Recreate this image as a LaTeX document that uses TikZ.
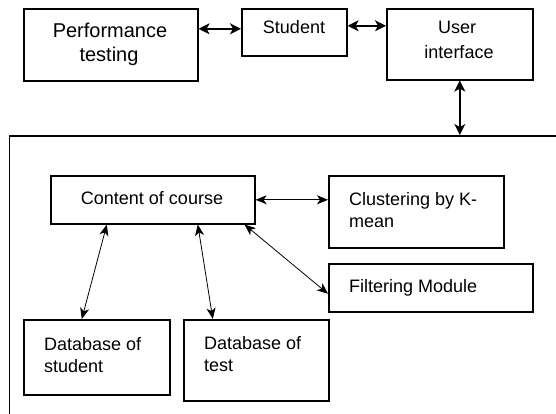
\documentclass[tikz,border=0pt]{standalone}
\usepackage{fontspec}
\setmainfont{Liberation Sans}
\usetikzlibrary{arrows.meta,calc}
\begin{document}
\begin{tikzpicture}[x=1pt,y=-1pt,
  box/.style={draw, line width=1.6pt, inner sep=0pt, anchor=north west},
  txt/.style={inner sep=0pt, font=\fontsize{18}{22}\selectfont},
  bigtxt/.style={inner sep=0pt, font=\fontsize{20}{24}\selectfont},
  arr/.style={{Stealth[length=11pt,width=11pt,inset=3pt]}-{Stealth[length=11pt,width=11pt,inset=3pt]}, line width=1.5pt},
  tarr/.style={{Stealth[length=11pt,width=9pt,inset=3pt]}-{Stealth[length=11pt,width=9pt,inset=3pt]}, line width=0.8pt}
]
\useasboundingbox (0,0) rectangle (556,414);
\fill[white] (0,0) rectangle (556,414);

% boxes
\node[box, minimum width=174pt, minimum height=72pt] (perf) at (23,8) {};
\node[box, minimum width=105pt, minimum height=47pt] (stud) at (241,8) {};
\node[box, minimum width=146pt, minimum height=71pt] (ui) at (386,8) {};
\node[box, minimum width=640pt, minimum height=360pt] (sys) at (8.5,135) {};
\node[box, minimum width=204pt, minimum height=48pt] (content) at (50,175) {};
\node[box, minimum width=175pt, minimum height=72pt] (clus) at (328,175) {};
\node[box, minimum width=204pt, minimum height=48pt] (filt) at (328,263) {};
\node[box, minimum width=146pt, minimum height=75pt] (dbs) at (23,319) {};
\node[box, minimum width=145pt, minimum height=81pt] (dbt) at (183,319) {};

% texts
\node[bigtxt, anchor=base] (perf1) at (110,38) {Performance};
\node[bigtxt, anchor=base] (perf2) at (109,62) {testing};
\node[txt, anchor=base] (stud1) at (294,33.5) {Student};
\node[txt, anchor=base] (ui1) at (457,34) {User};
\node[txt, anchor=base] (ui2) at (459,59) {interface};
\node[txt, anchor=base] (content1) at (152,204) {Content of course};
\node[txt, anchor=base west] (clus1) at (349,205) {Clustering by K-};
\node[txt, anchor=base west] (clus2) at (349,227) {mean};
\node[txt, anchor=base west] (filt1) at (349,292) {Filtering Module};
\node[txt, anchor=base west] (dbs1) at (44,350) {Database of};
\node[txt, anchor=base west] (dbs2) at (44,372) {student};
\node[txt, anchor=base west] (dbt1) at (204,349) {Database of};
\node[txt, anchor=base west] (dbt2) at (204,371) {test};

% connectors
\draw[arr] ([yshift=16pt]perf.east) -- ([yshift=16pt]perf.east -| stud.west);
\draw[arr] ([yshift=6.5pt]stud.east) -- ([yshift=6.5pt]stud.east -| ui.west);
\draw[arr] (ui.south) -- (ui.south |- sys.north);
\draw[tarr] (content.east) -- (content.east -| clus.west);
\draw[tarr] ([xshift=-46pt]content.south) -- ([xshift=-15pt]dbs.north);
\draw[tarr] ([xshift=45pt]content.south) -- ([xshift=-43.5pt]dbt.north);
\draw[tarr] ([xshift=-11pt]content.south east) -- ([yshift=-6pt]filt.west);
\end{tikzpicture}
\end{document}
